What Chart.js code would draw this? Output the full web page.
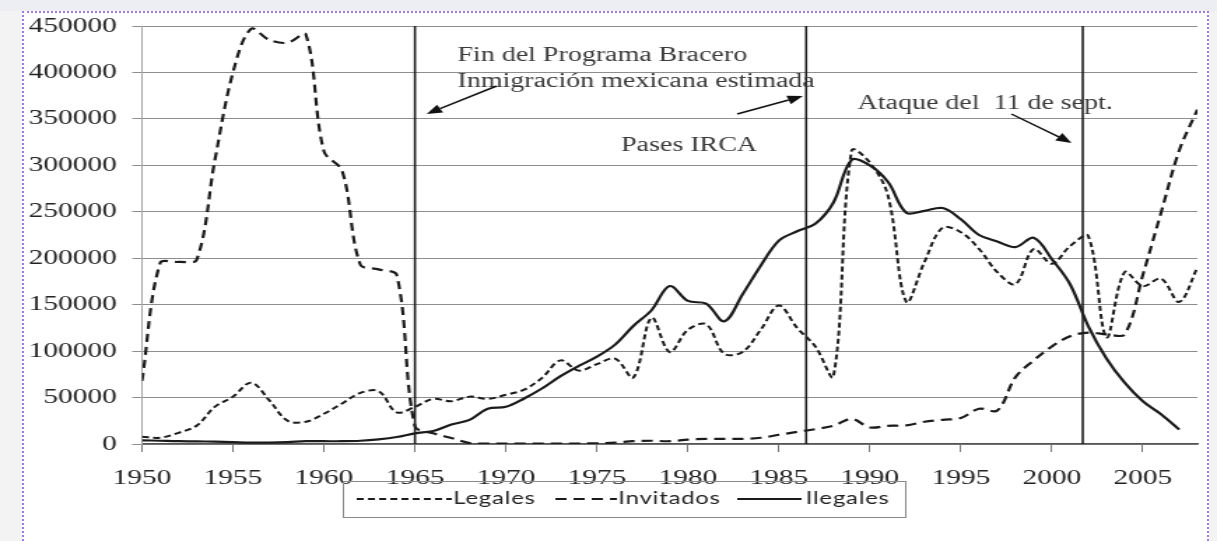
<!DOCTYPE html>
<html>
<head>
<meta charset="utf-8">
<script src="https://cdn.jsdelivr.net/npm/chart.js@4.4.1/dist/chart.umd.min.js"></script>
<style>
  html, body { margin: 0; padding: 0; }
  body { width: 1217px; height: 541px; background: #f3f3f4; position: relative; overflow: hidden; }
  #topband { position: absolute; left: 0; top: 0; width: 1217px; height: 11px; background: #eceef3; }
  #panel {
    position: absolute; left: 22px; top: 11px; width: 1183px; height: 540px; background: #fff;
    border-top: 2px dotted #a27be0; border-left: 2px dotted #a27be0; border-right: 2px dotted #a27be0;
  }
  #chart { position: absolute; left: 0; top: 0; }
</style>
</head>
<body>
<div id="topband"></div>
<div id="panel"></div>
<!-- drawn at 870 wide and stretched to 1217, like the source picture -->
<canvas id="chart" width="870" height="541" style="width:1217px;height:541px"></canvas>
<script>
// ===== DATA =====
const years = [
    1950, 1951, 1952, 1953, 1954, 1955, 1956, 1957, 1958, 1959,
    1960, 1961, 1962, 1963, 1964, 1965, 1966, 1967, 1968, 1969,
    1970, 1971, 1972, 1973, 1974, 1975, 1976, 1977, 1978, 1979,
    1980, 1981, 1982, 1983, 1984, 1985, 1986, 1987, 1988, 1989,
    1990, 1991, 1992, 1993, 1994, 1995, 1996, 1997, 1998, 1999,
    2000, 2001, 2002, 2003, 2004, 2005, 2006, 2007, 2008
];

const legales = [
    7800, 6700, 12000, 19600, 40000, 51000, 66000, 47000, 25000, 24000,
    32600, 43700, 55000, 57000, 34000, 40000, 48500, 46000, 51000, 48500,
    53000, 58500, 71500, 90000, 79000, 86000, 92000, 71500, 136000, 99000,
    123000, 129000, 97000, 99000, 123000, 149000, 125000, 105000, 73000, 316000,
    303000, 267000, 153000, 196000, 233000, 228000, 210000, 185000, 172000, 210000,
    194000, 213000, 224000, 115000, 185000, 170000, 178000, 153000, 190000
];

const invitados = [
    68000, 195000, 196000, 198000, 305000, 400000, 447000, 435000, 432000, 441000,
    315000, 294000, 193000, 188000, 182000, 19000, 11500, 6500, 1000, 500,
    500, 500, 500, 500, 500, 800, 1500, 3000, 3500, 3000,
    4800, 5500, 5500, 5500, 6700, 10000, 13000, 16000, 19600, 27000,
    17800, 19600, 20000, 24000, 26000, 28000, 38000, 36000, 72000, 90000,
    105000, 116000, 120000, 118000, 118000, 182000, 249000, 316000, 360000
];

const ilegales = [
    4000, 3500, 3000, 2800, 2500, 2000, 1500, 1500, 2000, 3000,
    3000, 3000, 3500, 5000, 7500, 11500, 14000, 21000, 26000, 38000,
    40000, 49000, 60000, 73000, 84000, 94000, 107000, 127000, 144000, 170000,
    154000, 151000, 132000, 161000, 192000, 219000, 229000, 237000, 260000, 306000,
    300000, 282000, 249000, 251000, 254000, 242000, 225000, 218000, 212000, 222000,
    199000, 172000, 127000, 92000, 66000, 46000, 32000, 15500, null
];

const xTickYears = [1950, 1955, 1960, 1965, 1970, 1975, 1980, 1985, 1990, 1995, 2000, 2005];
const yTickValues = [0, 50000, 100000, 150000, 200000, 250000, 300000, 350000, 400000, 450000];
const eventYears = [1965, 1986.5, 2001.7];

// ===== ANNOTATIONS (canvas pixels) =====
const notes = [
    { text: 'Fin del Programa Bracero', x: 327, y: 61 },
    { text: 'Inmigración mexicana estimada', x: 327, y: 87 },
    { text: 'Pases IRCA', x: 444, y: 151 },
    { text: 'Ataque del  11 de sept.', x: 613, y: 109 }
];
const arrows = [
    [355, 86, 305, 114],
    [527, 114, 574, 96],
    [723, 114, 766, 143]
];
const legendBox = { left: 245, top: 481, width: 402, height: 36 };
const legendSlots = [
    { from: 255, to: 323, textX: 324 },
    { from: 397, to: 441, textX: 442 },
    { from: 527, to: 573, textX: 576 }
];

function toPoints(values) {
    return values.map((v, i) => ({ x: years[i], y: v })).filter(p => p.y !== null);
}

function drawArrow(ctx, x1, y1, x2, y2) {
    const ang = Math.atan2(y2 - y1, x2 - x1);
    const len = 11, half = 4.5;
    const bx = x2 - len * Math.cos(ang);
    const by = y2 - len * Math.sin(ang);
    ctx.beginPath();
    ctx.moveTo(x1, y1);
    ctx.lineTo(bx, by);
    ctx.stroke();
    ctx.beginPath();
    ctx.moveTo(x2, y2);
    ctx.lineTo(bx + half * Math.sin(ang), by - half * Math.cos(ang));
    ctx.lineTo(bx - half * Math.sin(ang), by + half * Math.cos(ang));
    ctx.closePath();
    ctx.fill();
}

// vertical event lines, notes, arrows and the boxed legend
const overlayPlugin = {
    id: 'overlay',
    afterDatasetsDraw(chart) {
        const { ctx, chartArea, scales } = chart;
        ctx.save();

        ctx.strokeStyle = '#1e1e1e';
        ctx.lineWidth = 1.6;
        eventYears.forEach(yr => {
            const px = scales.x.getPixelForValue(yr);
            ctx.beginPath();
            ctx.moveTo(px, chartArea.top);
            ctx.lineTo(px, chartArea.bottom);
            ctx.stroke();
        });

        ctx.font = '20px "Liberation Serif"';
        ctx.fillStyle = '#3a3a3a';
        ctx.textAlign = 'left';
        ctx.textBaseline = 'alphabetic';
        notes.forEach(n => ctx.fillText(n.text, n.x, n.y));

        ctx.strokeStyle = '#111';
        ctx.fillStyle = '#111';
        ctx.lineWidth = 1.5;
        arrows.forEach(a => drawArrow(ctx, a[0], a[1], a[2], a[3]));

        // legend
        ctx.strokeStyle = '#8a8a8a';
        ctx.lineWidth = 1;
        ctx.strokeRect(legendBox.left + 0.5, legendBox.top + 0.5, legendBox.width, legendBox.height);
        const midY = legendBox.top + legendBox.height / 2;
        ctx.font = '17px Lato';
        ctx.letterSpacing = '0.6px';
        ctx.textBaseline = 'middle';
        chart.data.datasets.forEach((ds, i) => {
            const slot = legendSlots[i];
            ctx.strokeStyle = '#1b1b1b';
            ctx.lineWidth = 1.8;
            ctx.setLineDash(ds.borderDash || []);
            ctx.beginPath();
            ctx.moveTo(slot.from, midY);
            ctx.lineTo(slot.to, midY);
            ctx.stroke();
            ctx.setLineDash([]);
            ctx.fillStyle = '#222';
            ctx.fillText(ds.label, slot.textX, midY);
        });

        ctx.restore();
    }
};

const tickFont = { family: '"Liberation Serif"', size: 21 };

const chart = new Chart(document.getElementById('chart'), {
    type: 'line',
    data: {
        datasets: [
            {
                label: 'Legales',
                data: toPoints(legales),
                borderColor: '#1b1b1b',
                borderWidth: 2,
                borderDash: [5, 3],
                pointRadius: 0,
                tension: 0.35,
                fill: false
            },
            {
                label: 'Invitados',
                data: toPoints(invitados),
                borderColor: '#1b1b1b',
                borderWidth: 2.2,
                borderDash: [8, 5],
                pointRadius: 0,
                tension: 0.35,
                fill: false
            },
            {
                label: 'Ilegales',
                data: toPoints(ilegales),
                borderColor: '#1b1b1b',
                borderWidth: 2.2,
                pointRadius: 0,
                tension: 0.35,
                fill: false
            }
        ]
    },
    options: {
        responsive: false,
        animation: false,
        devicePixelRatio: 1,
        layout: { padding: { left: 0, right: 14, top: 26, bottom: 47 } },
        plugins: {
            legend: { display: false },
            tooltip: { enabled: false }
        },
        scales: {
            x: {
                type: 'linear',
                min: 1950,
                max: 2008,
                afterBuildTicks: scale => { scale.ticks = xTickYears.map(v => ({ value: v })); },
                afterFit: scale => { scale.height = 50; },
                ticks: {
                    font: tickFont,
                    color: '#222',
                    padding: 14,
                    maxRotation: 0,
                    callback: value => String(value)
                },
                grid: { drawOnChartArea: false, drawTicks: true, tickLength: 8, color: '#777', lineWidth: 1 },
                border: { display: true, color: '#555', width: 1.5 }
            },
            y: {
                min: 0,
                max: 450000,
                afterBuildTicks: scale => { scale.ticks = yTickValues.map(v => ({ value: v })); },
                afterFit: scale => { scale.width = 101.5; },
                ticks: {
                    font: tickFont,
                    color: '#222',
                    padding: 11,
                    callback: value => String(value)
                },
                grid: { color: '#8e8e8e', lineWidth: 1, tickLength: 7 },
                border: { display: true, color: '#a5a5a5', width: 1 }
            }
        }
    },
    plugins: [overlayPlugin]
});
</script>
</body>
</html>
